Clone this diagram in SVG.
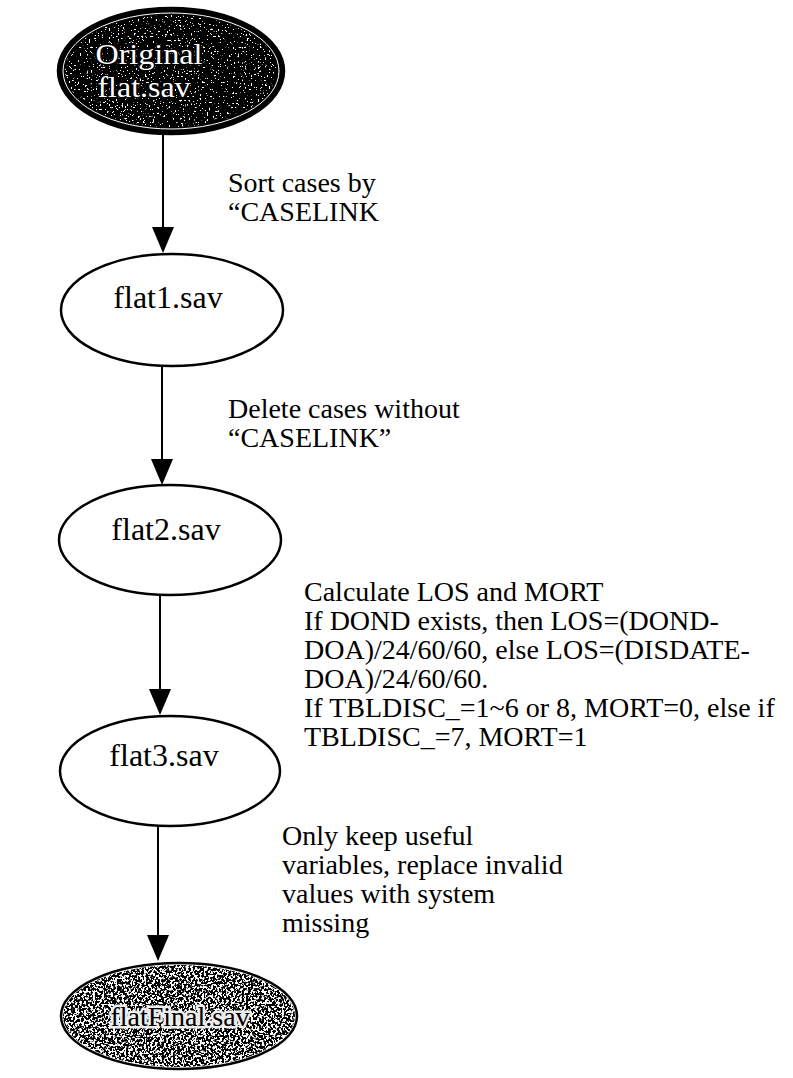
<svg xmlns="http://www.w3.org/2000/svg" width="793" height="1078" viewBox="0 0 793 1078">
  <style>
    .node { fill: #fff; stroke: #000; stroke-width: 2.5; }
    .lbl { font-family: "Liberation Serif", "Times New Roman", serif; font-size: 32px; fill: #000; text-anchor: middle; }
    .note { font-family: "Liberation Serif", "Times New Roman", serif; font-size: 28px; fill: #000; }
    .edge { stroke: #000; stroke-width: 2; fill: none; }
    .head { fill: #000; }
    .inv { fill: #fff; stroke: #000; stroke-width: 3; paint-order: stroke; }
  </style>
  <defs>
    <!-- white speckles on the dark start node -->
    <filter id="speckLight" x="0" y="0" width="100%" height="100%">
      <feTurbulence type="fractalNoise" baseFrequency="0.55" numOctaves="2" seed="4" result="n"/>
      <feColorMatrix in="n" type="matrix" values="0 0 0 0 1  0 0 0 0 1  0 0 0 0 1  20 0 0 0 -13" result="w"/>
      <feComposite in="w" in2="SourceGraphic" operator="in"/>
    </filter>
    <!-- grey grain on the end node -->
    <filter id="speckGrey" x="0" y="0" width="100%" height="100%">
      <feTurbulence type="fractalNoise" baseFrequency="0.45" numOctaves="2" seed="9" result="n"/>
      <feColorMatrix in="n" type="matrix" values="0 0 0 0 0  0 0 0 0 0  0 0 0 0 0  16 0 0 0 -7.1" result="b"/>
      <feComposite in="b" in2="SourceGraphic" operator="in"/>
    </filter>
  </defs>

  <g id="connectors">
    <line class="edge" x1="163" y1="134" x2="163" y2="230"/>
    <polygon class="head" points="152,227 174,227 163,253"/>
    <line class="edge" x1="162" y1="366" x2="162" y2="462"/>
    <polygon class="head" points="151,459 173,459 162,485"/>
    <line class="edge" x1="160" y1="596" x2="160" y2="692"/>
    <polygon class="head" points="149,689 171,689 160,715"/>
    <line class="edge" x1="158" y1="826" x2="158" y2="938"/>
    <polygon class="head" points="147,935 169,935 158,961"/>
  </g>

  <g id="node-original">
    <ellipse cx="171" cy="71" rx="113" ry="63" fill="#000" stroke="#000" stroke-width="2.5"/>
    <ellipse cx="171" cy="71" rx="108" ry="58" fill="none" stroke="#fff" stroke-width="1"/>
    <ellipse cx="171" cy="71" rx="106" ry="56" fill="#fff" filter="url(#speckLight)"/>
    <text class="lbl inv" x="149" y="64" style="font-size:29px" textLength="107" lengthAdjust="spacingAndGlyphs">Original</text>
    <text class="lbl inv" x="144" y="97" style="font-size:29px" textLength="93" lengthAdjust="spacingAndGlyphs">flat.sav</text>
  </g>

  <g id="node-flat1">
    <ellipse class="node" cx="172" cy="310" rx="111" ry="56"/>
    <text class="lbl" x="168" y="308">flat1.sav</text>
  </g>

  <g id="node-flat2">
    <ellipse class="node" cx="170" cy="540" rx="111" ry="55"/>
    <text class="lbl" x="166" y="540">flat2.sav</text>
  </g>

  <g id="node-flat3">
    <ellipse class="node" cx="170" cy="771" rx="110" ry="55"/>
    <text class="lbl" x="164" y="766">flat3.sav</text>
  </g>

  <g id="node-final">
    <ellipse cx="179" cy="1016" rx="118" ry="53" fill="#fff" stroke="#000" stroke-width="2.5"/>
    <ellipse cx="179" cy="1016" rx="116" ry="51" fill="#000" filter="url(#speckGrey)"/>
    <text class="lbl" x="180" y="1026" style="font-size:28px" fill="#000" stroke="#eee" stroke-width="5" stroke-linejoin="round" paint-order="stroke">flatFinal.sav</text>
  </g>

  <g id="notes">
    <text class="note" x="228" y="192">Sort cases by</text>
    <text class="note" x="228" y="221">“CASELINK</text>
    <text class="note" x="228" y="418">Delete cases without</text>
    <text class="note" x="228" y="447">“CASELINK”</text>
    <text class="note" x="304" y="601">Calculate LOS and MORT</text>
    <text class="note" x="304" y="630">If DOND exists, then LOS=(DOND-</text>
    <text class="note" x="304" y="659">DOA)/24/60/60, else LOS=(DISDATE-</text>
    <text class="note" x="304" y="688">DOA)/24/60/60.</text>
    <text class="note" x="304" y="717">If TBLDISC_=1~6 or 8, MORT=0, else if</text>
    <text class="note" x="304" y="746">TBLDISC_=7, MORT=1</text>
    <text class="note" x="282" y="845">Only keep useful</text>
    <text class="note" x="282" y="874">variables, replace invalid</text>
    <text class="note" x="282" y="903">values with system</text>
    <text class="note" x="282" y="932">missing</text>
  </g>
</svg>
